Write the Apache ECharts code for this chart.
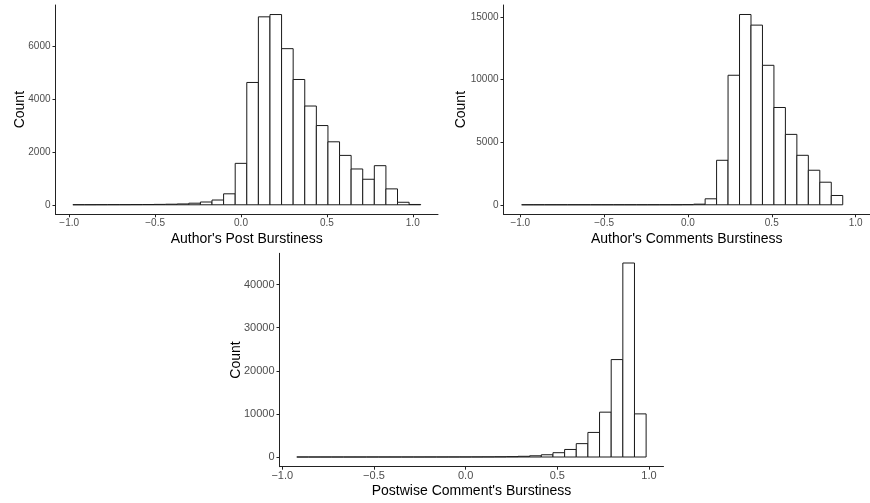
<!DOCTYPE html>
<html>
<head>
<meta charset="utf-8">
<script src="https://cdn.jsdelivr.net/npm/echarts@6/dist/echarts.min.js"></script>
<style>
html,body{margin:0;padding:0;background:#fff;}
#chart{width:870px;height:503px;}
</style>
</head>
<body>
<div id="chart"></div>
<script>
// ---- Data ----
// Panel 1: Author's Post Burstiness (bins centred on k*width, k = -14..15)
var p1BinWidth = 0.0675;
var p1FirstK = -14;
var p1Counts = [3, 3, 4, 5, 6, 8, 10, 15, 22, 32, 60, 105, 180, 415, 1568,
                4629, 7112, 7199, 5908, 4741, 3737, 2998, 2383, 1869, 1355,
                966, 1480, 602, 95, 12];
// Panel 2: Author's Comments Burstiness (k = -14..13)
var p2BinWidth = 0.0684;
var p2FirstK = -14;
var p2Counts = [1, 1, 1, 1, 1, 1, 1, 1, 1, 1, 1, 2, 3, 5, 12,
                50, 478, 3555, 10347, 15202, 14353, 11143, 7773, 5624,
                3953, 2759, 1804, 743];
// Panel 3: Postwise Comment's Burstiness (k = -14..15)
var p3BinWidth = 0.0635;
var p3FirstK = -14;
var p3Counts = [2, 2, 2, 3, 3, 3, 4, 4, 5, 6, 7, 8, 10, 12, 15,
                22, 35, 55, 90, 160, 280, 520, 1000, 1750, 3100,
                5700, 10400, 22600, 45000, 10000];

var xTicks = [-1.0, -0.5, 0.0, 0.5, 1.0];
var p1YTicks = [0, 2000, 4000, 6000];
var p2YTicks = [0, 5000, 10000, 15000];
var p3YTicks = [0, 10000, 20000, 30000, 40000];

var xTitles = ["Author's Post Burstiness", "Author's Comments Burstiness", "Postwise Comment's Burstiness"];
var yTitle = "Count";

function bins(width, firstK, counts) {
  return counts.map(function (c, i) { return [(firstK + i) * width, c, width]; });
}

var FONT = "'Liberation Sans', Arial, Helvetica, sans-serif";
var AXIS_COLOR = '#222';

function renderBar(params, api) {
  var c = api.value(0), v = api.value(1), w = api.value(2);
  var p0 = api.coord([c - w / 2, v]);
  var p1 = api.coord([c + w / 2, 0]);
  return {
    type: 'rect',
    shape: { x: p0[0], y: p0[1], width: p1[0] - p0[0], height: p1[1] - p0[1] },
    style: { fill: '#ffffff', stroke: '#1a1a1a', lineWidth: 1 }
  };
}

function fmtX(v) {
  var s = Math.abs(v).toFixed(1);
  return v < 0 ? '\u2212' + s : s;
}

function xAxis(idx, min, max, title, fs) {
  return {
    type: 'value', gridIndex: idx, min: min, max: max,
    name: title, nameLocation: 'middle', nameGap: 17.5, nameMoveOverlap: false,
    nameTextStyle: { color: '#000', fontSize: 14, fontFamily: FONT },
    axisLine: { show: true, onZero: false, lineStyle: { color: AXIS_COLOR, width: 1 } },
    axisTick: { show: true, length: 3, lineStyle: { color: AXIS_COLOR }, customValues: xTicks },
    axisLabel: { color: '#4d4d4d', fontSize: fs, fontFamily: FONT, margin: 4,
                 customValues: xTicks, formatter: fmtX },
    splitLine: { show: false }
  };
}

function yAxis(idx, min, max, ticks, gap, fs) {
  return {
    type: 'value', gridIndex: idx, min: min, max: max,
    name: yTitle, nameLocation: 'middle', nameGap: gap, nameRotate: 90, nameMoveOverlap: false,
    nameTextStyle: { color: '#000', fontSize: 14, fontFamily: FONT },
    axisLine: { show: true, onZero: false, lineStyle: { color: AXIS_COLOR, width: 1 } },
    axisTick: { show: true, length: 3, lineStyle: { color: AXIS_COLOR }, customValues: ticks },
    axisLabel: { color: '#4d4d4d', fontSize: fs, fontFamily: FONT, margin: 5,
                 customValues: ticks, formatter: function (v) { return String(v); } },
    splitLine: { show: false }
  };
}

var chart = echarts.init(document.getElementById('chart'), null, { renderer: 'canvas' });
chart.setOption({
  animation: false,
  backgroundColor: '#ffffff',
  grid: [
    { left: 55.5, top: 5, width: 382.5, height: 209.3, containLabel: false },
    { left: 503.5, top: 5, width: 376.5, height: 209.3, containLabel: false },
    { left: 279.5, top: 253.3, width: 384, height: 213.4, containLabel: false }
  ],
  xAxis: [
    xAxis(0, -1.080, 1.147, xTitles[0], 10),
    xAxis(1, -1.100, 1.086, xTitles[1], 10),
    xAxis(2, -1.015, 1.079, xTitles[2], 11)
  ],
  yAxis: [
    yAxis(0, -360, 7560, p1YTicks, 28, 10),
    yAxis(1, -760, 15960, p2YTicks, 35, 10),
    yAxis(2, -2250, 47250, p3YTicks, 36, 11)
  ],
  series: [
    { type: 'custom', xAxisIndex: 0, yAxisIndex: 0, renderItem: renderBar,
      data: bins(p1BinWidth, p1FirstK, p1Counts), clip: false },
    { type: 'custom', xAxisIndex: 1, yAxisIndex: 1, renderItem: renderBar,
      data: bins(p2BinWidth, p2FirstK, p2Counts), clip: false },
    { type: 'custom', xAxisIndex: 2, yAxisIndex: 2, renderItem: renderBar,
      data: bins(p3BinWidth, p3FirstK, p3Counts), clip: false }
  ]
});
</script>
</body>
</html>
